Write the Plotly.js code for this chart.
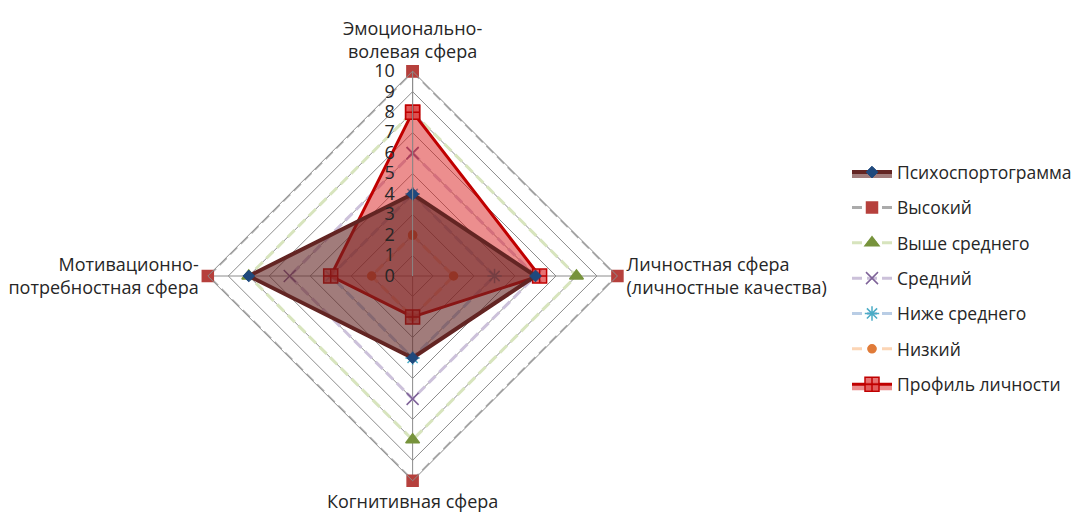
<!DOCTYPE html>
<html>
<head>
<meta charset="utf-8">
<script src="https://cdn.plot.ly/plotly-3.0.1.min.js"></script>
<style>
  html, body { margin: 0; padding: 0; background: #fff; }
  #chart { width: 1077px; height: 514px; }
</style>
</head>
<body>
<div id="chart"></div>
<script>
// Axes of the profile (clockwise from the top)
const spheres = [
  "Эмоционально-<br>волевая сфера",
  "Личностная сфера<br>(личностные качества)",
  "Когнитивная сфера",
  "Мотивационно-<br>потребностная сфера"
];

// Level reference rings
const highLevel        = [10, 10, 10, 10];
const aboveAverage     = [8, 8, 8, 8];
const averageLevel     = [6, 6, 6, 6];
const belowAverage     = [4, 4, 4, 4];
const lowLevel         = [2, 2, 2, 2];

// Sport psychogram and the athlete's personality profile
const psychogram       = [4, 6, 4, 8];
const personalProfile  = [8, 6.2, 2, 4];

const radialTicks = [0, 1, 2, 3, 4, 5, 6, 7, 8, 9, 10];

function closed(arr) { return arr.concat([arr[0]]); }
const theta = closed(spheres);

function levelTrace(name, values, lineColor, symbol, markerColor, size, rank) {
  return {
    type: "scatterpolar", mode: "lines+markers", name: name,
    r: closed(values), theta: theta,
    line: { color: lineColor, width: 3, dash: "10px,5px" },
    marker: { symbol: symbol, color: markerColor, size: size,
              line: { color: markerColor, width: 1.5 } },
    legendgroup: name, legendrank: rank, hoverinfo: "r+theta"
  };
}

const traces = [
  levelTrace("Высокий", highLevel, "#ababab", "square", "#b6403c", 11, 2),
  levelTrace("Выше среднего", aboveAverage, "#d7e4bd", "triangle-up", "#77933c", 12, 3),
  levelTrace("Средний", averageLevel, "#ccc1da", "x-thin-open", "#7f6399", 12, 4),
  levelTrace("Ниже среднего", belowAverage, "#b9cde5", "asterisk-open", "#4bacc6", 12, 5),
  levelTrace("Низкий", lowLevel, "#fcd5b5", "circle", "#e07b39", 8, 6),
  {
    type: "scatterpolar", mode: "lines+markers", name: "Профиль личности",
    r: closed(personalProfile), theta: theta,
    fill: "toself", fillcolor: "rgba(218,30,30,0.5)",
    line: { color: "#c00000", width: 3 },
    marker: { symbol: "square-cross", color: "rgba(225,80,80,0.8)", size: 14,
              line: { color: "#c00000", width: 1.5 } },
    legendgroup: "profile", legendrank: 7
  },
  {
    type: "scatterpolar", mode: "lines+markers", name: "Психоспортограмма",
    r: closed(psychogram), theta: theta,
    fill: "toself", fillcolor: "rgba(99,37,35,0.6)",
    line: { color: "#632523", width: 4 },
    marker: { symbol: "diamond", color: "#1f497d", size: 9,
              line: { color: "#1f497d", width: 1 } },
    legendgroup: "psych", legendrank: 1
  }
];

const layout = {
  width: 1077, height: 514,
  margin: { l: 0, r: 0, t: 0, b: 0 },
  paper_bgcolor: "#ffffff",
  font: { family: "Open Sans, Liberation Sans, sans-serif", color: "#262626", size: 18 },
  showlegend: true,
  legend: {
    x: 0.787, y: 0.70, xanchor: "left", yanchor: "top",
    font: { size: 17.5, color: "#262626" },
    tracegroupgap: 9.6, itemwidth: 40,
    bgcolor: "rgba(0,0,0,0)"
  },
  polar: {
    domain: { x: [208 / 1077, 618 / 1077], y: [33 / 514, 443 / 514] },
    bgcolor: "rgba(0,0,0,0)",
    gridshape: "linear",
    angularaxis: {
      type: "category", categoryarray: spheres,
      rotation: 90, direction: "clockwise",
      showline: true, linecolor: "#8c8c8c", linewidth: 1,
      gridcolor: "#8c8c8c", gridwidth: 1,
      ticks: "outside", ticklen: 5, tickcolor: "rgba(0,0,0,0)",
      tickfont: { size: 18, color: "#262626" }
    },
    radialaxis: {
      range: [0, 10], tickvals: radialTicks, angle: 90, tickangle: 90,
      side: "counterclockwise",
      showline: true, linecolor: "#8c8c8c",
      gridcolor: "#8c8c8c", gridwidth: 1,
      ticks: "outside", ticklen: 11, tickcolor: "rgba(0,0,0,0)",
      tickfont: { size: 18, color: "#262626" }
    }
  }
};

Plotly.newPlot("chart", traces, layout, { displayModeBar: false, staticPlot: true });
</script>
</body>
</html>
